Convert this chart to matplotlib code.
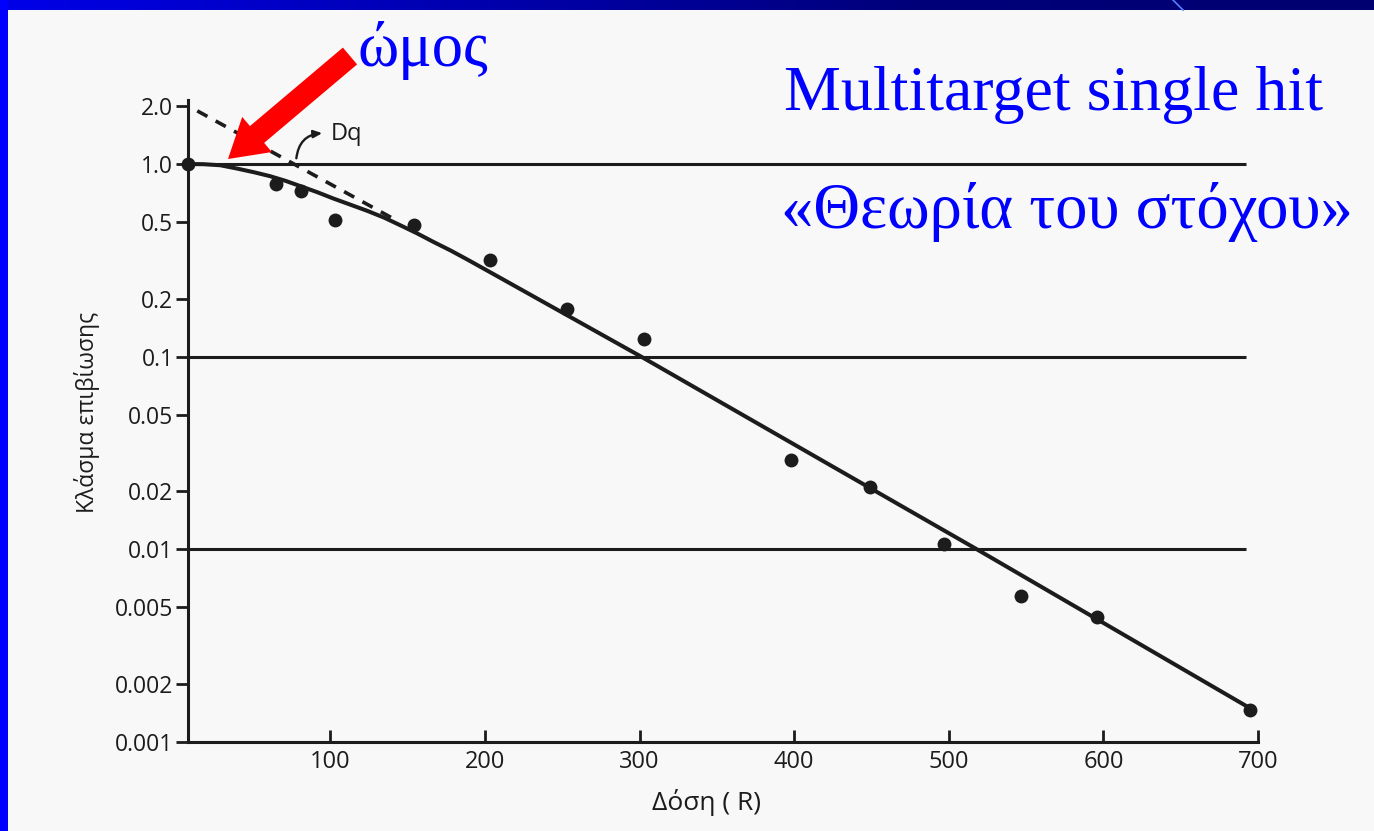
import matplotlib
matplotlib.use("Agg")
import matplotlib.pyplot as plt
import matplotlib.patches as mpatches
import numpy as np

# measured survival points (dose in R, surviving fraction)
dose = [8, 65, 81, 103, 154, 203, 253, 303, 398, 449, 497, 547, 596, 695]
surv = [1.0, 0.79, 0.725, 0.51, 0.484, 0.319, 0.177, 0.124,
        0.0291, 0.021, 0.0106, 0.00569, 0.00446, 0.00146]

# fitted multitarget curve, traced as a polyline
curve_dose = [8, 18, 29, 40, 51, 61, 71, 81, 92, 102, 113, 124, 135, 145,
              156, 167, 178, 189, 206, 301, 518, 695]
curve_surv = [1.0, 0.998, 0.985, 0.946, 0.905, 0.865, 0.818, 0.766,
              0.712, 0.662, 0.615, 0.571, 0.526, 0.482, 0.437, 0.393,
              0.355, 0.318, 0.267, 0.1, 0.01, 0.00149]

# back-extrapolation of the straight part (dashed)
extrap_dose = [14, 141]
extrap_surv = [1.888, 0.519]

ref_levels = [1.0, 0.1, 0.01]

y_ticks = [0.001, 0.002, 0.005, 0.01, 0.02, 0.05, 0.1, 0.2, 0.5, 1.0, 2.0]
y_labels = ["0.001", "0.002", "0.005", "0.01", "0.02", "0.05",
            "0.1", "0.2", "0.5", "1.0", "2.0"]
x_ticks = [100, 200, 300, 400, 500, 600, 700]

INK = "#1c1c1c"
BG = "#f8f8f8"
SANS = ["Open Sans", "DejaVu Sans"]
SERIF = ["Liberation Serif", "DejaVu Serif"]

W, H = 1374, 831
AX_L, AX_R, AX_B, AX_T = 188, 1258, 741.7, 100
fig = plt.figure(figsize=(W / 100, H / 100), dpi=100)
fig.patch.set_facecolor(BG)

# ---- survival plot -----------------------------------------------------------
ax = fig.add_axes([AX_L / W, 1 - AX_B / H, (AX_R - AX_L) / W, (AX_B - AX_T) / H])
ax.set_facecolor("none")
ax.set_yscale("log")
ax.set_xlim(8, 700)
ax.set_ylim(0.001, 2.15)

for lvl in ref_levels:
    ax.hlines(lvl, 8, 692, color=INK, lw=2.2, zorder=1)

ax.plot(extrap_dose, extrap_surv, color=INK, lw=2.6,
        linestyle=(0, (3.2, 2.6)), zorder=2)
ax.plot(curve_dose, curve_surv, color=INK, lw=2.9, zorder=3,
        solid_capstyle="round", solid_joinstyle="round")
ax.plot(dose, surv, "o", color=INK, ms=10, mew=0, zorder=4, clip_on=False)

# Dq marker arrow
ax.annotate("", xy=(96.6, 1.449), xytext=(77.9, 1.036),
            arrowprops=dict(arrowstyle="-|>,head_length=0.5,head_width=0.22",
                            connectionstyle="arc3,rad=-0.45",
                            color=INK, lw=1.7))
ax.text(100, 1.332, "Dq", fontsize=17, color=INK, family=SANS,
        ha="left", va="baseline")

for side in ("top", "right"):
    ax.spines[side].set_visible(False)
for side in ("left", "bottom"):
    ax.spines[side].set_linewidth(2.2)
    ax.spines[side].set_color(INK)

ax.set_yticks(y_ticks)
ax.set_yticklabels(y_labels)
ax.yaxis.set_minor_locator(matplotlib.ticker.NullLocator())
ax.set_xticks(x_ticks)
ax.set_xticklabels([str(v) for v in x_ticks])
ax.tick_params(axis="y", direction="out", length=8.5, width=2.0,
               color=INK, pad=2.0, labelsize=16.5, labelcolor=INK)
ax.tick_params(axis="x", direction="in", length=9, width=2.0,
               color=INK, pad=6, labelsize=17, labelcolor=INK)
for lab in ax.get_xticklabels() + ax.get_yticklabels():
    lab.set_family(SANS)

ax.set_ylabel("Κλάσμα επιβίωσης", fontsize=16.5, family=SANS, color=INK,
              va="center")
ax.yaxis.set_label_coords((87 - AX_L) / (AX_R - AX_L),
                          (AX_B - 412) / (AX_B - AX_T))
ax.set_xlabel("Δόση ( R)", fontsize=19, family=SANS, color=INK, va="center")
ax.xaxis.set_label_coords((707 - AX_L) / (AX_R - AX_L),
                          (AX_B - 802) / (AX_B - AX_T))

# ---- slide frame, arrow and titles -------------------------------------------
deco = fig.add_axes([0, 0, 1, 1], zorder=5)
deco.axis("off")
deco.patch.set_alpha(0)

bar = np.linspace(0, 1, 256).reshape(1, -1)
bar_cmap = matplotlib.colors.LinearSegmentedColormap.from_list(
    "bar", ["#0000e8", "#0000b0", "#00007a", "#000070"])
deco.imshow(bar, cmap=bar_cmap, extent=(0, W, 10, 0), aspect="auto")
deco.add_patch(mpatches.Rectangle((0, 0), 8, H, color="#0000ff", lw=0))
deco.plot([1173, 1183], [0, 10], color="#5a7cff", lw=1.2)
deco.set_xlim(0, W)
deco.set_ylim(H, 0)

deco.add_patch(mpatches.FancyArrow(350, 56, -122, 103, width=22,
                                   head_width=46, head_length=38,
                                   length_includes_head=True,
                                   color="#ff0000", lw=0))

deco.text(358, 66, "ώμος", fontsize=45, color="#0000ff", family=SERIF,
          ha="left", va="baseline")
deco.text(784, 110, "Multitarget single hit", fontsize=46, color="#0000ff",
          family=SERIF, ha="left", va="baseline")
deco.text(781, 228, "«Θεωρία του στόχου»", fontsize=46.5, color="#0000ff",
          family=SERIF, ha="left", va="baseline")

fig.savefig("out.png", dpi=100, facecolor=fig.get_facecolor())
